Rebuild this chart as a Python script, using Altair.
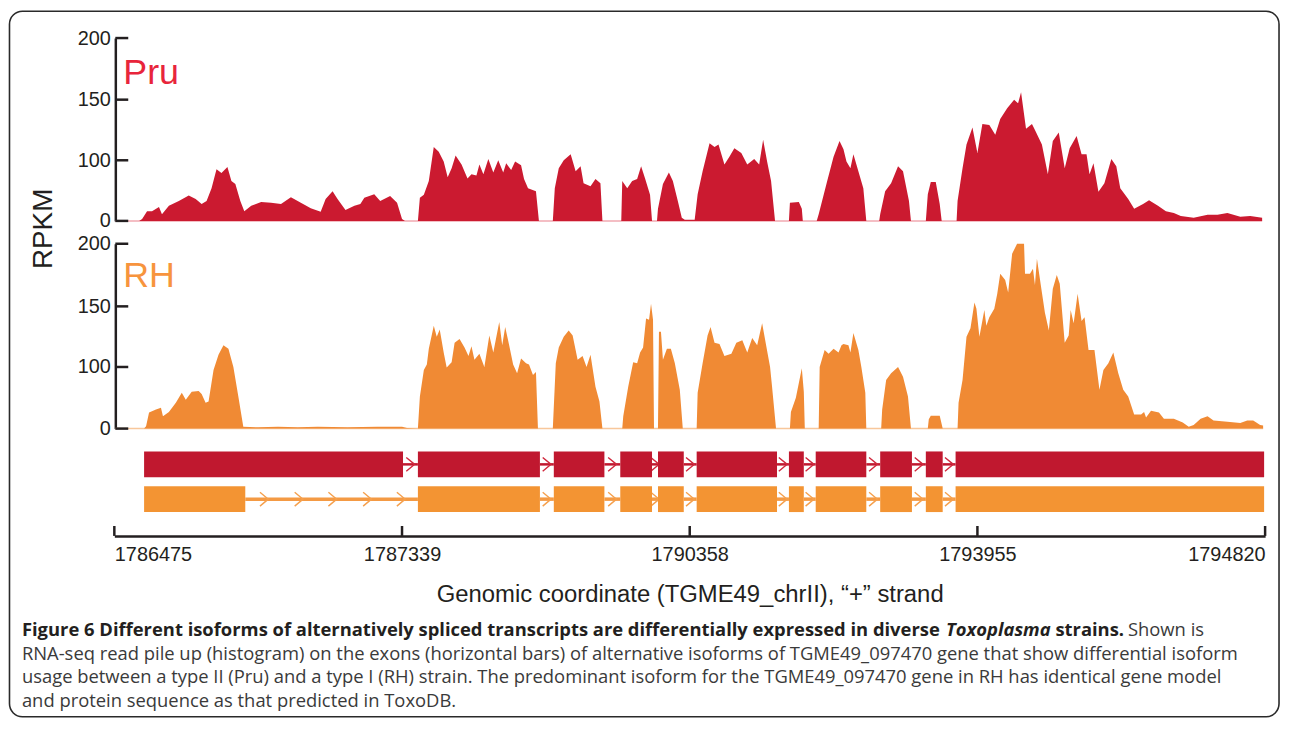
import altair as alt
import pandas as pd

# ---------------- axis ticks / labels ----------------
X_TICKS = [0, 290, 580, 870, 1160]          # track positions of labelled coordinates
X_LABELS = ["1786475", "1787339", "1790358", "1793955", "1794820"]
Y_TICKS = [0, 100, 150, 200]
X_TITLE = "Genomic coordinate (TGME49_chrII), \u201c+\u201d strand"
Y_TITLE = "RPKM"

# ---------------- coverage (RPKM) along the track ----------------
PRU_X = [1, 25, 28, 33, 38, 45, 48, 55, 65, 75, 82, 88, 93, 98, 103, 108, 114, 118, 122, 127, 131, 138, 148, 158, 168, 178, 188, 198, 208, 213, 220, 225, 233, 242, 248, 252, 262, 268, 278, 285, 290, 293,
         306, 308, 312, 317, 322, 327, 332, 336, 340, 344, 350, 356, 360, 365, 368, 372, 377, 382, 387, 392, 395, 400, 404, 410, 413, 417, 425, 428,
         442, 444, 448, 453, 460, 465, 470, 473, 480, 485, 490, 492,
         511, 512, 517, 522, 527, 531, 535, 540, 542,
         547, 548, 553, 559, 563, 568, 572, 575, 585,
         588, 593, 600, 605, 609, 615, 620, 625, 632, 638, 645, 650, 654, 658, 662, 666,
         680, 681, 690, 693, 694,
         708, 710, 718, 725, 731, 735, 738, 742, 745, 750, 755, 758,
         771, 772, 777, 783, 790, 795, 801, 803,
         818, 820, 823, 828, 832, 834,
         849, 850, 855, 859, 865, 870, 875, 882, 888, 893, 900, 907, 911, 914, 919, 925, 928, 935, 941, 946, 952, 958, 963, 970, 975, 980, 983, 987, 992, 998, 1005, 1010, 1014, 1022, 1028, 1037, 1043, 1052, 1060, 1068, 1075, 1088, 1102, 1112, 1122, 1135, 1145, 1157]
PRU_V = [0, 0, 3, 16, 16, 23, 11, 25, 33, 42, 36, 28, 33, 54, 85, 79, 89, 66, 61, 33, 16, 25, 31, 30, 28, 39, 30, 21, 15, 36, 49, 36, 18, 25, 28, 38, 44, 33, 41, 30, 3, 0,
         0, 38, 43, 66, 111, 107, 98, 72, 87, 104, 93, 70, 77, 75, 93, 77, 101, 80, 100, 80, 95, 84, 98, 92, 69, 54, 49, 0,
         0, 54, 87, 100, 105, 82, 90, 62, 57, 69, 62, 0,
         0, 66, 54, 66, 69, 90, 70, 43, 0,
         0, 20, 61, 80, 66, 33, 5, 2, 2,
         44, 82, 114, 111, 113, 93, 103, 110, 106, 93, 101, 93, 117, 98, 66, 0,
         0, 30, 31, 20, 0,
         0, 11, 62, 103, 116, 109, 98, 87, 105, 82, 54, 0,
         0, 11, 49, 62, 90, 82, 33, 0,
         0, 44, 64, 64, 28, 0,
         0, 33, 87, 113, 127, 106, 130, 129, 121, 134, 143, 150, 147, 156, 126, 130, 125, 113, 77, 116, 123, 87, 110, 120, 105, 105, 77, 95, 48, 62, 101, 90, 54, 36, 20, 28, 34, 25, 16, 13, 8, 5, 10, 10, 13, 7, 8, 5]

RH_X = [1, 30, 32, 35, 42, 47, 49, 55, 62, 68, 72, 78, 85, 88, 92, 95, 100, 105, 110, 115, 120, 125, 130, 145, 165, 185, 205, 235, 265, 290, 295,
        306, 308, 312, 315, 317, 322, 325, 328, 332, 335, 340, 343, 348, 353, 357, 360, 363, 368, 373, 378, 382, 388, 391, 394, 398, 402, 406, 410, 415, 418, 422, 425, 427,
        442, 445, 448, 453, 458, 462, 467, 472, 476, 480, 485, 489, 492,
        512, 513, 518, 523, 527, 530, 533, 536, 539, 541, 543, 544,
        548, 549, 551, 553, 557, 561, 565, 570, 573,
        587, 588, 593, 598, 601, 605, 610, 615, 622, 627, 633, 638, 643, 648, 653, 657, 661, 663, 667,
        681, 682, 687, 693, 695, 696,
        710, 711, 716, 720, 725, 730, 733, 735, 740, 742, 745, 750, 753, 757, 758,
        773, 774, 778, 783, 790, 795, 800, 803,
        820, 821, 823, 832, 835,
        850, 851, 855, 859, 863, 867, 869, 872, 877, 879, 882, 887, 890, 893, 898, 901, 905, 910, 917, 918, 923, 926, 928, 930, 935, 938, 942, 946, 950, 953, 958, 962, 964, 967, 971, 975, 978, 982, 988, 993, 997, 1002, 1007, 1012, 1017, 1022, 1028, 1035, 1038, 1040, 1045, 1053, 1058, 1068, 1077, 1083, 1088, 1095, 1102, 1108, 1122, 1135, 1142, 1148, 1155, 1158]
RH_V = [0, 0, 4, 26, 31, 34, 20, 27, 42, 58, 47, 60, 61, 56, 42, 44, 95, 110, 118, 115, 100, 52, 3, 2, 3, 2, 3, 2, 3, 3, 1,
        0, 52, 95, 102, 115, 134, 125, 131, 112, 99, 104, 120, 123, 116, 109, 117, 106, 111, 100, 126, 112, 137, 118, 133, 118, 102, 90, 107, 103, 102, 87, 92, 0,
        0, 103, 116, 125, 130, 126, 106, 109, 100, 110, 68, 44, 0,
        0, 20, 68, 104, 103, 112, 116, 140, 139, 152, 139, 0,
        0, 129, 129, 106, 115, 115, 103, 63, 0,
        0, 58, 103, 126, 133, 120, 119, 109, 111, 120, 122, 112, 124, 118, 136, 118, 100, 68, 0,
        0, 27, 50, 98, 60, 0,
        0, 100, 114, 111, 115, 112, 118, 119, 118, 112, 128, 114, 100, 58, 0,
        0, 31, 79, 90, 100, 84, 52, 0,
        0, 15, 21, 21, 0,
        0, 42, 79, 125, 132, 153, 148, 125, 147, 134, 141, 148, 160, 176, 171, 161, 192, 200, 200, 176, 176, 180, 167, 188, 161, 145, 130, 164, 175, 168, 120, 126, 147, 136, 160, 138, 141, 114, 114, 63, 95, 103, 112, 90, 63, 52, 23, 23, 27, 18, 29, 26, 16, 16, 10, 3, 6, 16, 20, 13, 11, 9, 13, 13, 6, 5]

# ---------------- gene models (exons on the track) ----------------
PRU_EXON_START = [30, 306, 443, 510, 548, 587, 680, 707, 772, 818, 848]
PRU_EXON_END = [291, 429, 494, 542, 574, 668, 695, 758, 804, 835, 1159]
RH_EXON_START = [30, 306, 443, 510, 548, 587, 680, 707, 772, 818, 848]
RH_EXON_END = [132, 429, 494, 542, 574, 668, 695, 758, 804, 835, 1159]
RH_LONG_INTRON_ARROWS = [151, 186, 220, 255, 289]

# ---------------- caption ----------------
CAP_BOLD = "Figure 6 Different isoforms of alternatively spliced transcripts are differentially expressed in diverse"
CAP_ITAL = "Toxoplasma"
CAP_BOLD2 = "strains."
CAP_REG1 = "Shown is"
CAP_LINES = [
    "RNA-seq read pile up (histogram) on the exons (horizontal bars) of alternative isoforms of TGME49_097470 gene that show differential isoform",
    "usage between a type II (Pru) and a type I (RH) strain. The predominant isoform for the TGME49_097470 gene in RH has identical gene model",
    "and protein sequence as that predicted in ToxoDB.",
]

# ---------------- styling ----------------
FONT = "Liberation Sans"
CAP_FONT = "Open Sans"
CAP_SIZE = 18.5
INK = "#231f20"
CAP_GREY = "#3a3a3a"
RED = "#cb1a30"
RED_EXON = "#c0182f"
ORANGE = "#f08a34"
ORANGE_EXON = "#f39433"

W, H = 1282, 712
X_RANGE = [107, 1265]
PRU_RANGE = [212, 151, 90, 28]
RH_RANGE = [421, 359, 298, 235]

one = pd.DataFrame({"a": [0]})

label_expr = " : ".join(f"datum.value == {t} ? '{l}'" for t, l in zip(X_TICKS, X_LABELS)) + " : ''"
xs = alt.Scale(domain=[X_TICKS[0], X_TICKS[-1]], range=X_RANGE)
x_axis = alt.Axis(values=X_TICKS, labelExpr=label_expr, orient="bottom", offset=529 - H,
                  ticks=False, tickSize=0, domainColor=INK, domainWidth=2.5,
                  labelFont=FONT, labelFontSize=20, labelColor=INK, labelPadding=9,
                  labelFlush=True, labelOverlap=False, grid=False,
                  title=X_TITLE, titleFont=FONT, titleFontSize=24, titleFontWeight="normal",
                  titleColor=INK, titlePadding=18)


def X(field):
    return alt.X(f"{field}:Q", scale=xs, axis=x_axis)


def y_axis():
    return alt.Axis(values=Y_TICKS, orient="left", offset=-108, ticks=False, tickSize=0,
                    domainColor=INK, domainWidth=2.5, labelFont=FONT, labelFontSize=20,
                    labelColor=INK, labelPadding=5, title=None, grid=False)


def strain_panel(xv, vv, rng, fill, base_col):
    ysc = alt.Scale(domain=Y_TICKS, range=rng)
    df = pd.DataFrame({"x": xv, "v": vv})
    area = alt.Chart(df).mark_area(color=fill, interpolate="linear").encode(
        x=X("x"), y=alt.Y("v:Q", scale=ysc, axis=y_axis()))
    base = alt.Chart(one).mark_rule(color=base_col, strokeWidth=1.5).encode(
        x=X("x0"), x2=alt.datum(xv[-1]), y=alt.Y("y0:Q", scale=ysc, axis=y_axis())
    ).transform_calculate(x0=f"{xv[0]}", y0="0")
    ticks = alt.Chart(pd.DataFrame({"t": Y_TICKS})).mark_rule(color=INK, strokeWidth=2.5).encode(
        x=alt.value(108), x2=alt.value(121), y=alt.Y("t:Q", scale=ysc, axis=y_axis()))
    return alt.layer(base, area, ticks)


def track(starts, ends, y0, y1, col, intron_col, intron_w, arrows, arrow_col):
    ex = pd.DataFrame({"start": starts, "end": ends})
    intr = pd.DataFrame({"start": ends[:-1], "end": starts[1:]})
    yc = (y0 + y1) / 2
    lines = alt.Chart(intr).mark_rule(color=intron_col, strokeWidth=intron_w).encode(
        x=X("start"), x2="end", y=alt.value(yc))
    rects = alt.Chart(ex).mark_rect(color=col).encode(
        x=X("start"), x2="end", y=alt.value(y0), y2=alt.value(y1))
    chev = alt.Chart(pd.DataFrame({"x": arrows})).mark_point(
        shape="M-0.6,-1L0.6,0L-0.6,1", filled=False, size=196, strokeWidth=1.4,
        color=arrow_col, opacity=1).encode(x=X("x"), y=alt.value(yc))
    return [lines, chev, rects]


def txt(text, x, y, size, weight="normal", style="normal", color=INK, font=FONT,
        align="left", baseline="middle", angle=0):
    return alt.Chart(one).mark_text(text=text, font=font, fontSize=size, fontWeight=weight,
                                    fontStyle=style, color=color, align=align,
                                    baseline=baseline, angle=angle).encode(
        x=alt.value(x), y=alt.value(y))


red_arrows = [(a + b) / 2 for a, b in zip(PRU_EXON_END[:-1], PRU_EXON_START[1:])]
rh_arrows = RH_LONG_INTRON_ARROWS + [(a + b) / 2 for a, b in zip(RH_EXON_END[1:-1], RH_EXON_START[2:])]

border = alt.Chart(one).mark_rect(cornerRadius=13, fill="white", fillOpacity=0,
                                  stroke="#2a2a2a", strokeWidth=1.6).encode(
    x=alt.value(1.5), x2=alt.value(1279), y=alt.value(1), y2=alt.value(711))

x_ticks = alt.Chart(pd.DataFrame({"x": X_TICKS})).mark_rule(color=INK, strokeWidth=2.5).encode(
    x=X("x"), y=alt.value(519), y2=alt.value(529))

layers = [border,
          strain_panel(PRU_X, PRU_V, PRU_RANGE, RED, "#f1a9b1"),
          strain_panel(RH_X, RH_V, RH_RANGE, ORANGE, "#f8c79b"),
          x_ticks]
layers += track(PRU_EXON_START, PRU_EXON_END, 444, 470, RED_EXON, RED_EXON, 2.5, red_arrows, "#d0283d")
layers += track(RH_EXON_START, RH_EXON_END, 479, 505, ORANGE_EXON, "#f49a44", 3.5, rh_arrows, "#f5a04d")

layers += [
    txt("Pru", 116, 74, 36, color="#e8253b", baseline="alphabetic"),
    txt("RH", 116, 279, 36, color="#f7943d", baseline="alphabetic"),
    txt(Y_TITLE, 36, 220, 28, align="center", angle=270),
    txt(CAP_BOLD, 14, 624, CAP_SIZE, weight="bold", font=CAP_FONT),
    txt(CAP_ITAL, 944, 624, CAP_SIZE, weight="bold", style="italic", font=CAP_FONT),
    txt(CAP_BOLD2, 1054, 624, CAP_SIZE, weight="bold", font=CAP_FONT),
    txt(CAP_REG1, 1127, 624, CAP_SIZE, color=CAP_GREY, font=CAP_FONT),
]
for i, line in enumerate(CAP_LINES):
    layers.append(txt(line, 14, 648 + 23.5 * i, CAP_SIZE, color=CAP_GREY, font=CAP_FONT))

chart = alt.layer(*layers).resolve_scale(y="independent").properties(
    width=W, height=H, autosize=alt.AutoSizeParams(type="none"), padding=0
).configure_view(strokeWidth=0)

chart.save("out.html", embed_options={"renderer": "svg", "actions": False})
